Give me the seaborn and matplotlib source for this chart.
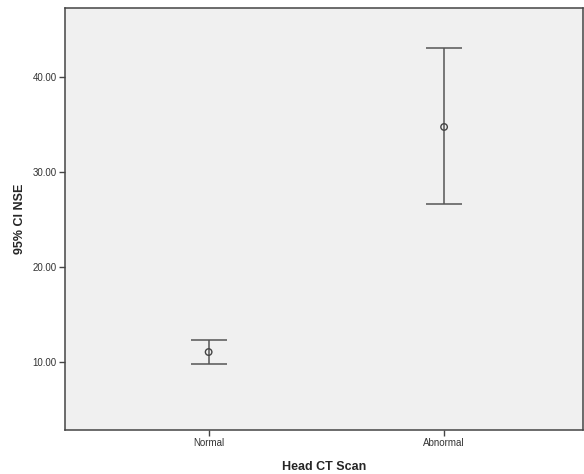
import numpy as np
import pandas as pd
import matplotlib
matplotlib.use("Agg")
import matplotlib.pyplot as plt
import seaborn as sns

# group means and 95% CI bounds of NSE
groups = ["Normal", "Abnormal"]
means = [11.05, 34.75]
ci_low = [9.80, 26.63]
ci_high = [12.32, 43.05]

df = pd.DataFrame({"Head CT Scan": groups, "NSE": means})

sns.set_style("ticks")
plt.rcParams["font.family"] = ["Liberation Sans", "DejaVu Sans"]

fig = plt.figure(figsize=(5.84, 4.74), dpi=100)
ax = fig.add_axes([0.1113, 0.0928, 0.887, 0.890])
ax.set_facecolor("#f0f0f0")

pos = np.arange(len(groups))
lo = np.array(means) - np.array(ci_low)
hi = np.array(ci_high) - np.array(means)
ax.errorbar(pos, means, yerr=[lo, hi], fmt="none", ecolor="#555555",
            elinewidth=1.1, capsize=13, capthick=1.1, zorder=2)
sns.scatterplot(data=df, x="Head CT Scan", y="NSE", ax=ax, marker="o",
                s=22, facecolor="none", edgecolor="#444444", linewidth=1.0,
                zorder=3)

ax.set_xlim(-0.61, 1.59)
ax.set_ylim(2.84, 47.26)
ax.set_yticks([10, 20, 30, 40])
ax.set_yticklabels([f"{v:.2f}" for v in [10, 20, 30, 40]])
ax.set_xticks(pos)
ax.set_xticklabels(groups)
ax.tick_params(axis="both", labelsize=7, length=4, width=1, color="#444444",
               labelcolor="#333333", pad=2)
for s in ax.spines.values():
    s.set_color("#444444")
    s.set_linewidth(1.1)

ax.set_xlabel("Head CT Scan", fontsize=9, fontweight="bold", labelpad=9)
ax.set_ylabel("95% CI NSE", fontsize=9, fontweight="bold", labelpad=5)

fig.savefig("out.png", dpi=100)
